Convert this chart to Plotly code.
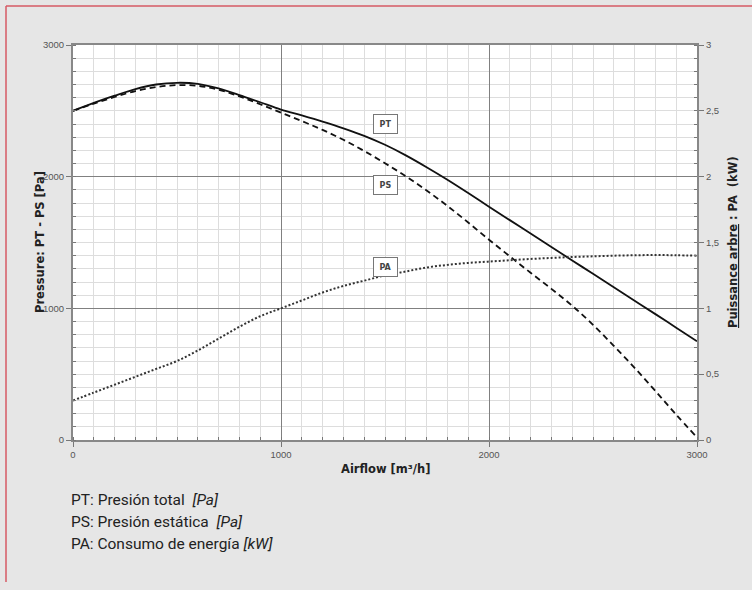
import plotly.graph_objects as go

airflow = [0, 100, 200, 300, 400, 500, 600, 700, 800, 900, 1000, 1100, 1200, 1300, 1400, 1500,
           1600, 1700, 1800, 1900, 2000, 2100, 2200, 2300, 2400, 2500, 2600, 2700, 2800, 2900, 3000]
pt = [2500, 2560, 2615, 2665, 2700, 2713, 2705, 2670, 2620, 2565, 2510, 2465, 2418, 2367, 2310, 2242,
      2162, 2072, 1977, 1876, 1772, 1670, 1568, 1466, 1364, 1262, 1160, 1058, 956, 853, 750]
ps = [2500, 2555, 2605, 2650, 2680, 2695, 2690, 2660, 2610, 2550, 2486, 2422, 2355, 2280, 2195, 2102,
      2003, 1895, 1778, 1652, 1521, 1395, 1270, 1148, 1020, 875, 715, 548, 372, 192, 20]
pa = [0.30, 0.36, 0.42, 0.48, 0.54, 0.60, 0.68, 0.77, 0.86, 0.94, 1.00, 1.06, 1.12, 1.17, 1.21, 1.25,
      1.28, 1.31, 1.33, 1.345, 1.355, 1.365, 1.375, 1.383, 1.39, 1.395, 1.40, 1.403, 1.405, 1.403, 1.40]

x_ticks = [0, 1000, 2000, 3000]
y_ticks = [0, 1000, 2000, 3000]
y2_ticks = [0, 0.5, 1, 1.5, 2, 2.5, 3]
y2_labels = ["0", "0,5", "1", "1,5", "2", "2,5", "3"]

labels = ["PT", "PS", "PA"]
label_x = [1500, 1500, 1500]
label_y = [2400, 1940, 1315]

legend_lines = ["PT: Presión total  <i>[Pa]</i>",
                "PS: Presión estática  <i>[Pa]</i>",
                "PA: Consumo de energía <i>[kW]</i>"]

W, H = 752, 590
ML, MR, MT, MB = 73, 55, 45, 150
pw, ph = W - ML - MR, H - MT - MB

def px(x):
    return (x - ML) / pw

def py(y):
    return (H - MB - y) / ph

fig = go.Figure()
fig.add_trace(go.Scatter(x=airflow, y=pt, mode="lines", line=dict(color="#111", width=1.8, shape="spline"),
                         showlegend=False, hoverinfo="skip"))
fig.add_trace(go.Scatter(x=airflow, y=ps, mode="lines", line=dict(color="#111", width=1.8, dash="6px,4px", shape="spline"),
                         showlegend=False, hoverinfo="skip"))
fig.add_trace(go.Scatter(x=airflow, y=pa, mode="lines", yaxis="y2",
                         line=dict(color="#333", width=2, dash="2px,2px", shape="spline"),
                         showlegend=False, hoverinfo="skip"))

tickfont = dict(family="Liberation Sans, Arial", size=9.5, color="#555")
fig.update_layout(
    width=W, height=H,
    margin=dict(l=ML, r=MR, t=MT, b=MB),
    paper_bgcolor="#e6e6e6", plot_bgcolor="white",
    xaxis=dict(range=[0, 3000], tickvals=x_ticks, ticks="outside", ticklen=5, tickcolor="#777",
               showline=True, linecolor="#888", linewidth=2, mirror=True,
               showgrid=True, gridcolor="#808080", gridwidth=1, zeroline=False,
               minor=dict(dtick=100, ticks="inside", ticklen=3, tickcolor="#777", showgrid=True,
                          gridcolor="#dddddd", gridwidth=1),
               tickfont=tickfont),
    yaxis=dict(range=[0, 3000], tickvals=y_ticks, ticks="outside", ticklen=5, tickcolor="#777",
               showline=True, linecolor="#888", linewidth=2,
               showgrid=True, gridcolor="#808080", gridwidth=1, zeroline=False,
               minor=dict(dtick=100, ticks="inside", ticklen=3, tickcolor="#777", showgrid=True,
                          gridcolor="#dddddd", gridwidth=1),
               tickfont=tickfont),
    yaxis2=dict(range=[0, 3], overlaying="y", side="right", tickvals=y2_ticks, ticktext=y2_labels,
                ticks="outside", ticklen=5, tickcolor="#777",
                showline=True, linecolor="#888", linewidth=2, showgrid=False, zeroline=False,
                minor=dict(dtick=0.1, ticks="inside", ticklen=3, tickcolor="#777", showgrid=False),
                tickfont=tickfont),
)

for t, xv, yv in zip(labels, label_x, label_y):
    fig.add_annotation(x=xv, y=yv, xref="x", yref="y", text="<b>" + t + "</b>", showarrow=False,
                       font=dict(family="DejaVu Sans", size=8, color="#444"),
                       bgcolor="white", bordercolor="#777", borderwidth=1, borderpad=1, width=21, height=16)

title_font = dict(family="DejaVu Sans", size=11.5, color="#222")
fig.add_annotation(x=px(31), y=py(242), xref="paper", yref="paper", text="<b>Pressure: PT - PS [Pa]</b>",
                   textangle=-90, showarrow=False, font=title_font)
fig.add_annotation(x=px(742), y=py(242), xref="paper", yref="paper",
                   text="<b><span style='text-decoration:underline'>Puissance arbre</span> : PA  (kW)</b>",
                   textangle=-90, showarrow=False, font=title_font)
fig.add_annotation(x=px(385), y=py(478), xref="paper", yref="paper", text="<b>Airflow [m³/h]</b>",
                   showarrow=False, font=title_font)

for i, line in enumerate(legend_lines):
    fig.add_annotation(x=px(69), y=py(511 + 22 * i), xref="paper", yref="paper", text=line, xanchor="left",
                       showarrow=False, font=dict(family="Roboto", size=15.5, color="#222"))

red = "#d65a64"
fig.add_shape(type="line", xref="paper", yref="paper", x0=px(6), x1=px(752), y0=py(6), y1=py(6),
              line=dict(color=red, width=1.5))
fig.add_shape(type="line", xref="paper", yref="paper", x0=px(6), x1=px(6), y0=py(6), y1=py(582),
              line=dict(color=red, width=1.5))

fig.write_html("out.html", config={"displayModeBar": False},
               post_script="document.body.style.margin='0';document.body.style.overflow='hidden';")
